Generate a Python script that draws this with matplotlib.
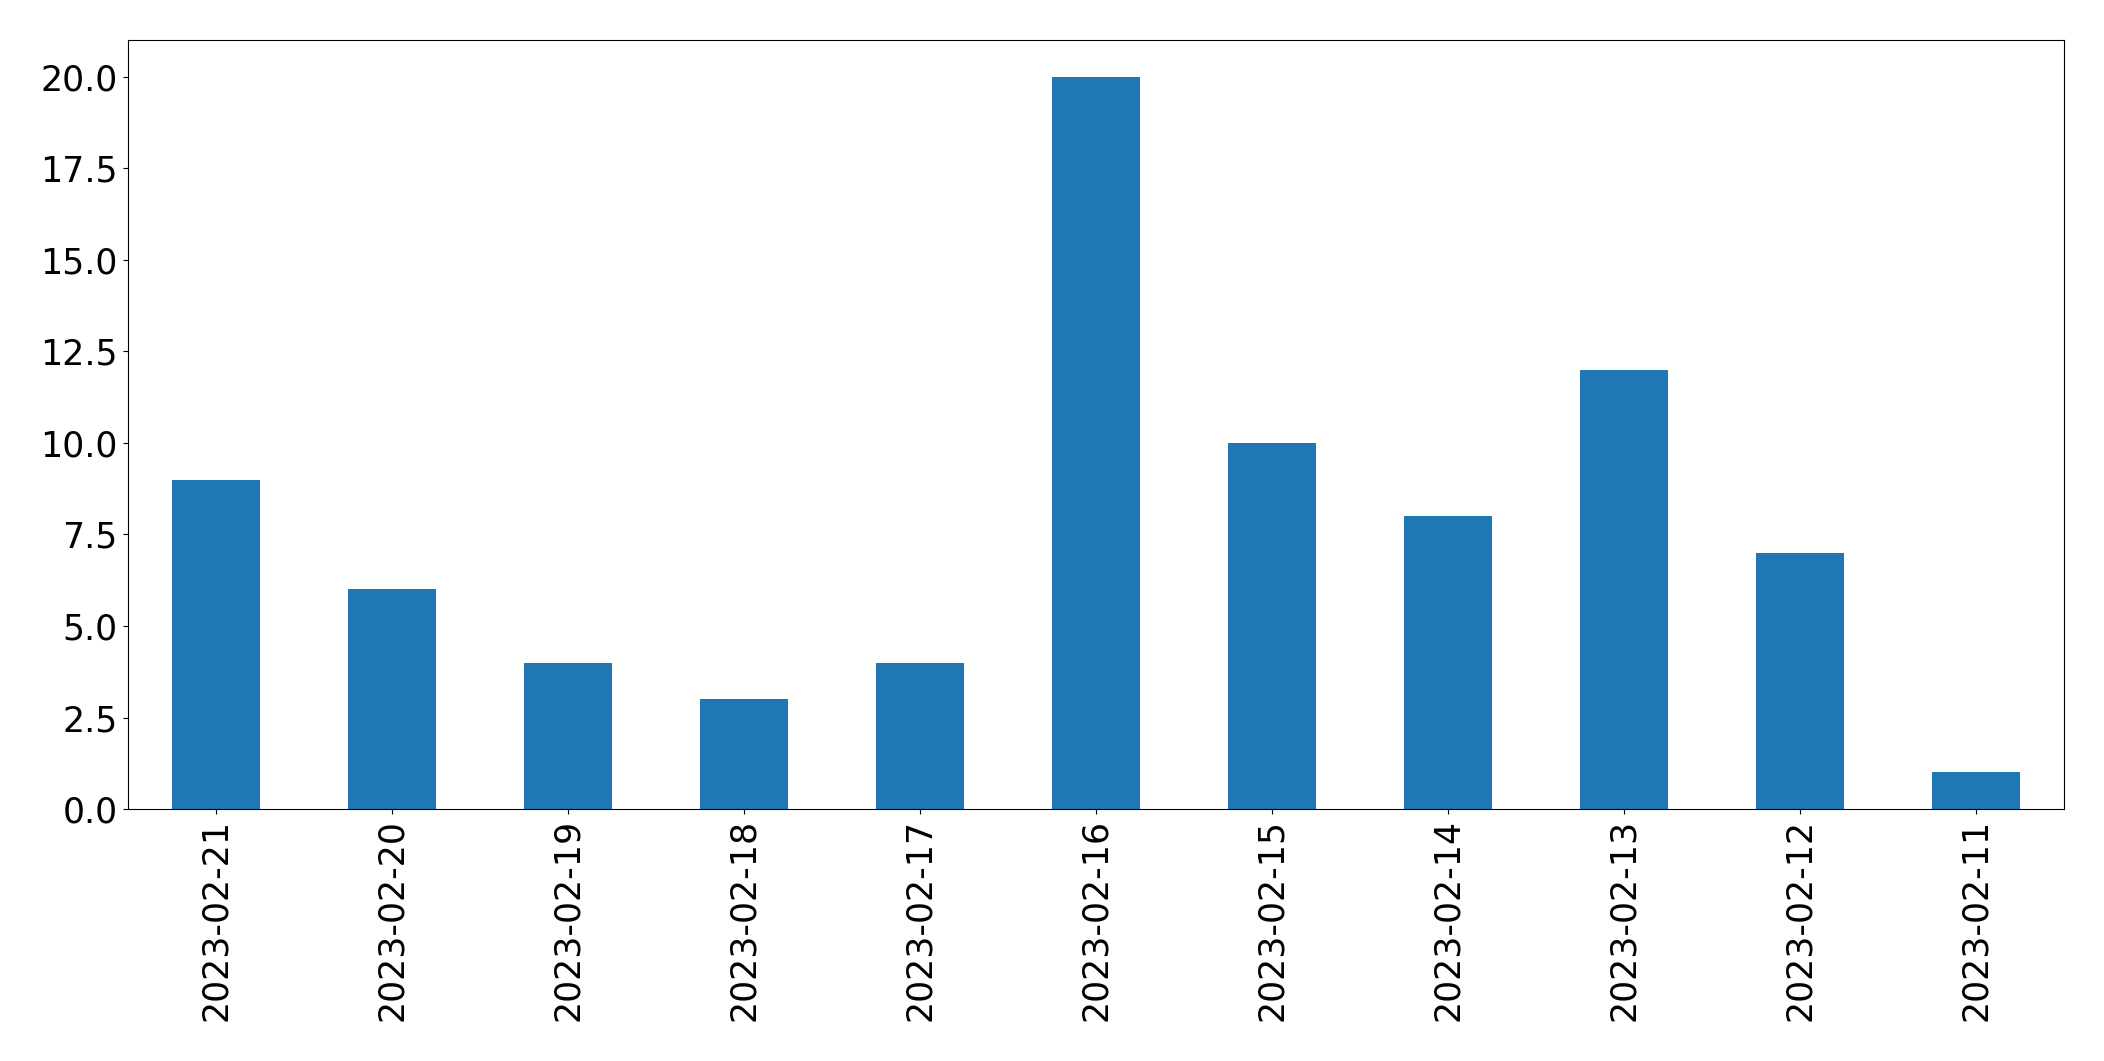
import numpy as np
from matplotlib import pyplot as plt

dates = ["2023-02-21", "2023-02-20", "2023-02-19", "2023-02-18", "2023-02-17",
         "2023-02-16", "2023-02-15", "2023-02-14", "2023-02-13", "2023-02-12",
         "2023-02-11"]
counts = [9, 6, 4, 3, 4, 20, 10, 8, 12, 7, 1]

fig = plt.figure(figsize=(21.04, 10.61), dpi=100)
ax = fig.add_axes([0.0606, 0.2375, 0.9204, 0.7245])

x = np.arange(len(dates))
ax.bar(x, counts, width=0.5, color="#1f77b4", linewidth=0)
ax.set_xlim(-0.5, len(dates) - 0.5)
ax.set_xticks(x)
ax.set_xticklabels(dates, rotation=90)
ax.tick_params(labelsize=25)

fig.savefig("out.png", dpi=100)
